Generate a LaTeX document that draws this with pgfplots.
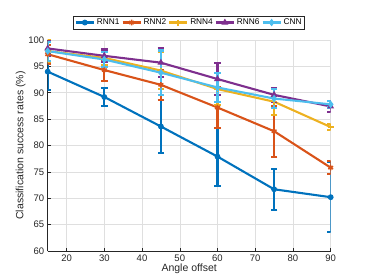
\documentclass[border=0pt]{standalone}
\usepackage{fontspec}
\setmainfont{Liberation Sans}
\usepackage{pgfplots}
\pgfplotsset{compat=1.18}
\definecolor{mblue}{rgb}{0,0.447,0.741}
\definecolor{morange}{rgb}{0.85,0.325,0.098}
\definecolor{myellow}{rgb}{0.929,0.694,0.125}
\definecolor{mpurple}{rgb}{0.494,0.184,0.556}
\definecolor{mcyan}{rgb}{0.301,0.745,0.933}
\definecolor{axgray}{rgb}{0.15,0.15,0.15}
\pgfplotsset{
  every error bar/.append style={line width=2.1pt},
  eb/.style={line width=2.1pt,
    error bars/y dir=both, error bars/y explicit,
    error bars/error mark options={rotate=90, mark size=3.3pt, line width=2.1pt}},
}
\begin{document}
\begin{tikzpicture}
\begin{axis}[
  at={(0,0)}, anchor=south west,
  scale only axis, width=283pt, height=211pt,
  xmin=15, xmax=90, ymin=60, ymax=100,
  xtick={20,30,...,90}, ytick={60,65,...,100},
  axis x line*=bottom, axis y line*=left,
  axis line style={axgray, line width=0.6pt, -},
  tick style={axgray, line width=0.5pt}, major tick length=3pt,
  grid=major, grid style={gray!25, line width=0.5pt},
  ticklabel style={font=\fontsize{9.5}{10}\selectfont, text=axgray},
  /pgf/number format/assume math mode=true,
  xlabel={Angle offset}, ylabel={Classification success rates (\%)},
  label style={font=\fontsize{10.5}{12}\selectfont, text=axgray},
  xlabel style={yshift=4pt},
  ylabel style={yshift=-4pt},
  legend columns=5,
  legend style={at={(0.5,1)}, anchor=south, yshift=10.5pt,
    font=\fontsize{8.3}{9}\selectfont, draw=axgray, line width=0.6pt,
    inner sep=1pt, column sep=0pt},
  legend cell align=left,
  legend image code/.code={
    \draw[#1, mark repeat=2, mark phase=2] plot coordinates {(0pt,0pt) (9pt,0pt) (18pt,0pt)};},
]
\addplot+[mblue, mark=*, mark size=2.4pt, mark options={solid, fill=mblue, line width=1pt}, eb] coordinates {
(15,94.0) +- (0,3.4) (30,89.2) +- (0,1.7) (45,83.6) +- (0,5.0)
(60,77.9) +- (0,5.5) (75,71.7) +- (0,3.9) (90,70.2) +- (0,6.6)};
\addlegendentry{RNN1}
\addplot+[morange, mark=asterisk, mark size=2.8pt, mark options={solid, line width=1.5pt}, eb] coordinates {
(15,97.3) +- (0,1.8) (30,94.3) +- (0,2.0) (45,91.5) +- (0,2.8)
(60,87.2) +- (0,3.8) (75,82.7) +- (0,4.8) (90,75.8) +- (0,1.2)};
\addlegendentry{RNN2}
\addplot+[myellow, mark=+, mark size=3pt, mark options={solid, line width=1.5pt}, eb] coordinates {
(15,97.9) +- (0,2.0) (30,96.6) +- (0,1.4) (45,94.2) +- (0,3.5)
(60,90.7) +- (0,3.0) (75,88.3) +- (0,2.5) (90,83.5) +- (0,0.6)};
\addlegendentry{RNN4}
\addplot+[mpurple, mark=triangle*, mark size=3pt, mark options={solid, fill=mpurple, line width=1pt}, eb] coordinates {
(15,98.4) +- (0,1.4) (30,97.0) +- (0,1.2) (45,95.7) +- (0,2.8)
(60,92.6) +- (0,3.1) (75,89.6) +- (0,1.3) (90,87.4) +- (0,1.0)};
\addlegendentry{RNN6}
\addplot+[mcyan, mark=diamond*, mark size=3pt, mark options={solid, fill=mcyan, line width=1pt}, eb] coordinates {
(15,97.9) +- (0,1.8) (30,96.3) +- (0,1.5) (45,93.8) +- (0,4.2)
(60,91.0) +- (0,2.8) (75,88.9) +- (0,1.8) (90,87.8) +- (0,0.6)};
\addlegendentry{CNN}
\end{axis}
\path (-47.7pt,-29pt) rectangle (318.3pt,251pt);
\end{tikzpicture}
\end{document}
